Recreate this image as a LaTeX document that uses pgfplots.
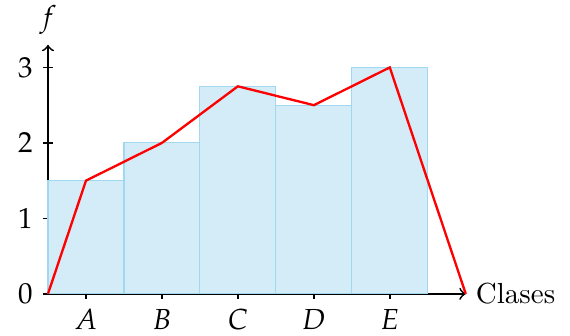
\documentclass[border=0pt]{standalone}
\usepackage{mathpazo}
\usepackage{pgfplots}
\pgfplotsset{compat=1.18}
\definecolor{barfill}{RGB}{212,235,248}
\definecolor{baredge}{RGB}{160,216,240}
\begin{document}
\begin{tikzpicture}
\begin{axis}[
  scale only axis,
  width=144.1pt, height=85.9pt,
  xmin=0, xmax=5.5, ymin=0, ymax=3.3,
  axis lines=left,
  axis line style={semithick},
  x axis line style={-to},
  y axis line style={-to},
  tick style={semithick, black},
  tick align=center,
  major tick length=3.5pt,
  xtick={0.5,1.5,2.5,3.5,4.5},
  xticklabels={$A$,$B$,$C$,$D$,$E$},
  ytick={0,1,2,3},
  xlabel={Clases},
  ylabel={$f$},
  every axis x label/.style={at={(axis description cs:1,0)},anchor=west},
  every axis y label/.style={at={(axis description cs:0,1)},anchor=south},
  clip=false,
]
\addplot[ybar interval, fill=barfill, draw=baredge] coordinates {
  (0,1.5) (1,2) (2,2.75) (3,2.5) (4,3) (5,3)
};
\addplot[red, thick, mark=none] coordinates {
  (0,0) (0.5,1.5) (1.5,2) (2.5,2.75) (3.5,2.5) (4.5,3) (5.5,0)
};
\end{axis}
\pgfresetboundingbox
\path[use as bounding box] (-16.55pt,-14.2pt) rectangle (180.05pt,101.35pt);
\end{tikzpicture}
\end{document}
